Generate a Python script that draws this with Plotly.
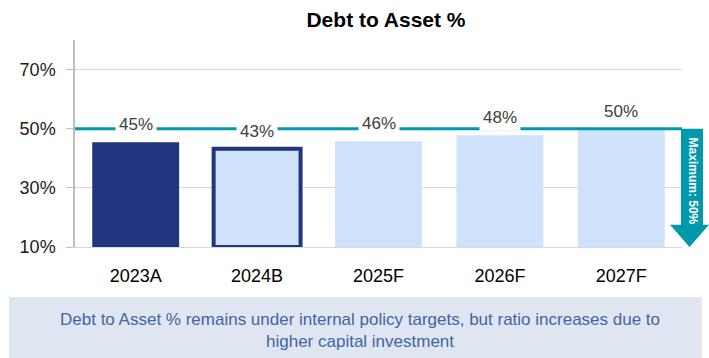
import plotly.graph_objects as go

categories = ["2023A", "2024B", "2025F", "2026F", "2027F"]
values = [45.4, 43.2, 45.8, 47.8, 49.8]
value_labels = ["45%", "43%", "46%", "48%", "50%"]
max_target = 50
y_ticks = [10, 30, 50, 70]
title_text = "Debt to Asset %"
arrow_text = "Maximum: 50%"
note_text = "Debt to Asset % remains under internal policy targets, but ratio increases due to<br>higher capital investment"

NAVY = "#21367f"
LIGHT = "#cfe2fb"
TEAL = "#0099ab"
FONT = "Liberation Sans, Arial, sans-serif"

W, H = 709, 358
L, R, T, B = 75, 682, 40, 247

def px(x):
    return (x - L) / (R - L)

def py(y):
    return (B - y) / (B - T)

fill_colors = [NAVY, LIGHT, LIGHT, LIGHT, LIGHT]
line_colors = [NAVY, NAVY, LIGHT, LIGHT, LIGHT]
line_widths = [0, 4, 0, 0, 0]

fig = go.Figure()
fig.add_trace(go.Bar(
    x=categories, y=[v - 10 for v in values], base=10,
    marker=dict(color=fill_colors, line=dict(color=line_colors, width=line_widths)),
    hoverinfo="skip", cliponaxis=False,
))

annotations = []
for c, v, lab in zip(categories, values, value_labels):
    annotations.append(dict(
        x=c, y=v, xref="x", yref="y", text=lab, showarrow=False,
        yanchor="bottom", yshift=4, bgcolor="white", borderpad=3,
        font=dict(family=FONT, size=17, color="#404040"),
    ))

# arrow label
annotations.append(dict(
    x=px(692.5), y=32.3, xref="paper", yref="y", text="<b>" + arrow_text + "</b>",
    textangle=90, showarrow=False, xanchor="center", yanchor="middle",
    font=dict(family=FONT, size=12, color="white"),
))
# bottom note
annotations.append(dict(
    x=px(360), y=py(330), xref="paper", yref="paper", text=note_text,
    showarrow=False, align="center", xanchor="center", yanchor="middle",
    font=dict(family=FONT, size=17, color="#4065a5"),
))

yb = 17.5
x1, x2, x0, x3 = px(681), px(703), px(670), px(709)
xc = (x0 + x3) / 2
arrow_path = (f"M {x1},{max_target} L {x2},{max_target} L {x2},{yb} L {x3},{yb} "
              f"L {xc},10 L {x0},{yb} L {x1},{yb} Z")

shapes = [
    dict(type="line", xref="paper", yref="y", x0=0, x1=1, y0=max_target, y1=max_target,
         line=dict(color=TEAL, width=3), layer="above"),
    dict(type="path", xref="paper", yref="y", path=arrow_path,
         fillcolor=TEAL, line=dict(width=0), layer="above"),
    dict(type="rect", xref="paper", yref="paper", x0=px(9), x1=px(702), y0=py(360), y1=py(297),
         fillcolor="#dfe6f2", line=dict(width=0), layer="below"),
]

fig.update_layout(
    width=W, height=H,
    margin=dict(l=L, r=W - R, t=T, b=H - B, autoexpand=False),
    paper_bgcolor="white", plot_bgcolor="white",
    showlegend=False,
    bargap=0.284,
    title=dict(text="<b>" + title_text + "</b>", x=386 / W, xanchor="center", xref="container",
               y=1 - 20 / H, yanchor="middle", yref="container",
               font=dict(family=FONT, size=21, color="black")),
    xaxis=dict(showgrid=False, showline=True, linecolor="#d9d9d9", linewidth=1,
               ticks="", tickfont=dict(family=FONT, size=18, color="black"),
               ticklabelstandoff=12, fixedrange=True, automargin=False),
    yaxis=dict(range=[10, 80], tickvals=y_ticks, ticktext=[f"{t}%" for t in y_ticks],
               showgrid=True, gridcolor="#d9d9d9", gridwidth=1,
               showline=True, linecolor="#bfbfbf", linewidth=1.5,
               ticks="outside", ticklen=7, tickcolor="#bfbfbf",
               ticklabelstandoff=7,
               tickfont=dict(family=FONT, size=18, color="#1a1a1a"),
               zeroline=False, fixedrange=True, automargin=False),
    annotations=annotations, shapes=shapes,
)

fig.write_html("out.html", config={"displayModeBar": False},
               post_script="document.body.style.margin='0';document.body.style.padding='0';")
